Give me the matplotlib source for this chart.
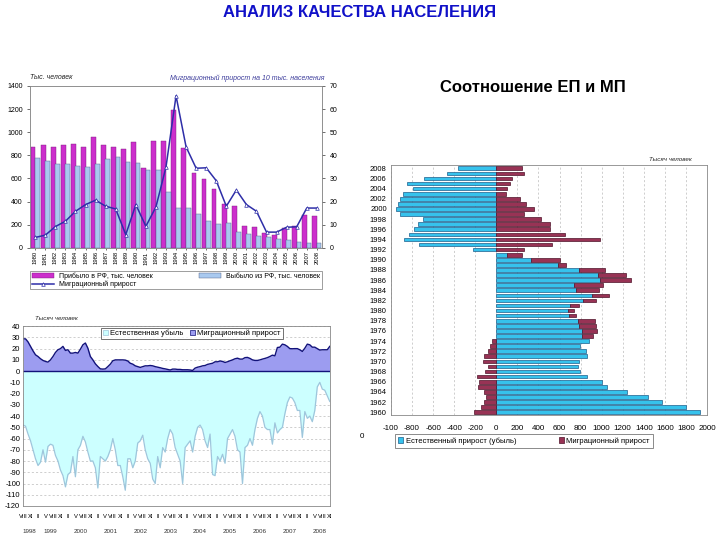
import matplotlib
matplotlib.use("Agg")
import matplotlib.pyplot as plt
import numpy as np
from matplotlib.patches import Patch
from matplotlib.lines import Line2D

plt.rcParams['font.family'] = ['Liberation Sans', 'DejaVu Sans']
plt.rcParams['axes.unicode_minus'] = False

# --- верхний левый график: миграция 1980-2008 ---
mig_years = list(range(1980, 2009))
arrived = [871, 888, 871, 891, 897, 874, 957, 891, 874, 851, 911, 687, 926, 920, 1193,
           865, 644, 595, 512, 379, 359, 193, 184, 126, 115, 172, 187, 287, 279]
departed = [779, 753, 721, 721, 707, 701, 721, 770, 788, 742, 730, 673, 673, 483, 345,
            345, 293, 233, 210, 216, 141, 124, 106, 98, 78, 66, 52, 46, 40]
mig_rate = [4.5, 5.5, 9.2, 11.5, 15.8, 18.7, 20.6, 18.0, 16.8, 5.7, 18.7, 9.3, 17.7, 34.9, 65.7,
            43.6, 34.4, 34.6, 29.0, 18.0, 25.0, 18.7, 15.8, 6.8, 6.8, 8.9, 9.1, 17.2, 17.2]

# --- нижний левый график: помесячно, VIII 1998 - XI 2008 ---
month_labels = ['VIII', 'XI', 'II', 'V']
mon_mig = [28.7, 28.7, 26, 22, 18, 14.5, 13, 11, 9.5, 8.6, 8, 10, 13, 16.6, 19, 20, 22, 18.4,
           19, 16, 16, 16.6, 16, 19.5, 23.4, 25, 20.4, 13, 10, 6.5, 4.1, 2, 1.8, 2, 4, 6.2,
           9.2, 10, 10, 10, 10, 9.8, 9, 7, 6.2, 4.7, 4, 3.3, 4, 4.7, 4.7, 5, 4.7, 4, 3.5, 3,
           2.4, 2, 1.5, 1, 1.8, 1.8, 1.5, 1.5, 1.2, 1.2, 1.2, 1, 0.6, 2.7, 3.5, 4, 4.7, 5, 6,
           6.5, 7, 8.3, 8.3, 9, 8.6, 7.7, 8.3, 9.2, 10, 11, 11.5, 10.7, 10.7, 12, 12.2, 11.3,
           10, 9.5, 9.5, 10, 10.7, 11.3, 12, 13, 14.2, 13.6, 21, 21.3, 24, 23.4, 22, 20, 19.9,
           20, 20, 19, 17.5, 20.4, 24, 23.4, 21.3, 21.3, 20, 18.7, 19, 19, 19, 22]
mon_nat = [-48, -49, -56, -62, -70, -78, -84, -81, -70, -81, -67, -65, -66, -75, -80, -88,
           -93, -103, -92, -90, -76, -94, -70, -66, -58, -63, -72, -80, -80, -86, -104, -76,
           -78, -80, -76, -70, -60, -70, -84, -84, -94, -106, -78, -78, -86, -80, -64, -62,
           -57, -70, -78, -82, -96, -100, -76, -86, -68, -72, -60, -52, -56, -68, -74, -80,
           -100, -68, -65, -62, -72, -58, -50, -48, -52, -62, -68, -56, -92, -93, -76, -80,
           -74, -82, -60, -56, -52, -58, -70, -72, -100, -68, -66, -60, -66, -52, -42, -36,
           -40, -50, -52, -52, -65, -46, -55, -52, -50, -38, -28, -23, -24, -28, -35, -35,
           -59, -36, -42, -40, -45, -35, -14, -10, -16, -17, -22, -27]
mon_years = list(range(1998, 2009))

# --- правый график: ЕП и МП 1960-2008 ---
ep_years = list(range(1960, 2009))
nat_inc = [1936, 1796, 1570, 1436, 1245, 1054, 1006, 863, 796, 771, 787, 863, 853, 796, 879,
           809, 815, 783, 774, 688, 678, 704, 822, 911, 752, 742, 984, 962, 783, 583, 331,
           102, -217, -732, -873, -825, -777, -739, -697, -917, -949, -930, -914, -885, -793,
           -847, -688, -468, -360]
mig_inc = [-210, -150, -118, -99, -118, -175, -166, -182, -108, -83, -127, -118, -83, -64, -38,
           108, 140, 166, 159, 73, 64, 83, 127, 162, 226, 268, 296, 267, 249, 80, 277,
           140, 264, 529, 981, 653, 513, 513, 424, 264, 360, 280, 226, 92, 99,
           127, 150, 258, 242]

fig = plt.figure(figsize=(7.2, 5.4), dpi=100)
fig.text(0.5, 0.977, 'АНАЛИЗ КАЧЕСТВА НАСЕЛЕНИЯ', ha='center', va='center',
         fontsize=12, fontweight='bold', color='#1010C8')
fig.text(533 / 720, 1 - 87 / 540, 'Соотношение ЕП и МП', ha='center', va='center',
         fontsize=12, fontweight='bold', color='black')

# верхний левый
ax1 = fig.add_axes([0.042, 0.541, 0.405, 0.300])
x = np.arange(len(mig_years))
ax1.bar(x - 0.22, arrived, 0.48, color='#CC2FCC', edgecolor='#7a1a7a', lw=0.3)
ax1.bar(x + 0.22, departed, 0.48, color='#A9C9EF', edgecolor='#4a5a80', lw=0.3)
ax1.set_xlim(-0.5, len(mig_years) - 0.5)
ax1.set_ylim(0, 1400)
ax1.set_yticks(range(0, 1401, 200))
ax1.set_xticks(x)
ax1.set_xticklabels([str(y) for y in mig_years], rotation=90, fontsize=4.2)
ax1.tick_params(axis='y', labelsize=5, length=2, width=0.4)
ax1.tick_params(axis='x', length=1.5, width=0.4, pad=1)
ax1b = ax1.twinx()
ax1b.plot(x, mig_rate, color='#2E2EA8', lw=1.1, marker='^', ms=2.6,
          mfc='white', mec='#2E2EA8', mew=0.5)
ax1b.set_ylim(0, 70)
ax1b.set_yticks(range(0, 71, 10))
ax1b.tick_params(axis='y', labelsize=5, length=2, width=0.4)
for a in (ax1, ax1b):
    for s in a.spines.values():
        s.set_color('#888888')
        s.set_linewidth(0.5)
fig.text(30 / 720, 1 - 78 / 540, 'Тыс. человек', fontsize=5, style='italic',
         va='center', color='#222222')
fig.text(325 / 720, 1 - 78 / 540, 'Миграционный прирост на 10 тыс. населения', fontsize=5,
         style='italic', va='center', ha='right', color='#3a3a9a')
h1 = [Patch(facecolor='#CC2FCC', edgecolor='#7a1a7a', lw=0.3),
      Line2D([], [], color='#2E2EA8', lw=1.1, marker='^', ms=2.6, mfc='white', mew=0.5),
      Patch(facecolor='#A9C9EF', edgecolor='#4a5a80', lw=0.3)]
l1 = ['Прибыло в РФ, тыс. человек', 'Миграционный прирост', 'Выбыло из РФ, тыс. человек']
leg1 = fig.legend(h1, l1, loc='upper left',
                  bbox_to_anchor=(0.042, 1 - 289 / 540, 0.405, 18 / 540),
                  mode='expand', ncol=2, fontsize=5, frameon=True, fancybox=False,
                  handlelength=3.2, handleheight=0.7, borderpad=0.2, labelspacing=0.1,
                  borderaxespad=0)
leg1.get_frame().set_edgecolor('#555555')
leg1.get_frame().set_linewidth(0.5)

# нижний левый
ax2 = fig.add_axes([0.032, 0.063, 0.426, 0.333])
m = np.arange(len(mon_mig))
ax2.set_axisbelow(True)
ax2.yaxis.grid(True, ls=(0, (3, 3)), color='#BBBBBB', lw=0.5)
ax2.fill_between(m, 0, mon_nat, color='#CCFFFF', lw=0)
ax2.plot(m, mon_nat, color='#9EC6DC', lw=0.9)
ax2.fill_between(m, 0, mon_mig, color='#9C9CF0', lw=0)
ax2.plot(m, mon_mig, color='#12127A', lw=1.0)
ax2.axhline(0, color='#12127A', lw=1.0)
ax2.set_xlim(0, len(mon_mig) - 1)
ax2.set_ylim(-120, 40)
ax2.set_yticks(range(-120, 41, 10))
ax2.tick_params(axis='y', labelsize=5.5, length=0, pad=2)
ax2.set_xticks(m[::3])
ax2.set_xticklabels([month_labels[i % 4] for i in range(len(m[::3]))], fontsize=4.2)
ax2.tick_params(axis='x', length=0, pad=6)
for s in ax2.spines.values():
    s.set_color('#888888')
    s.set_linewidth(0.6)
for yr in mon_years:
    pos = (yr - 1998) * 12 - 7 + 6
    pos = min(max(pos, 2.5), 120)
    ax2.text(pos, -0.14, str(yr), transform=ax2.get_xaxis_transform(),
             ha='center', va='center', fontsize=4.5, color='#333333')
fig.text(35 / 720, 1 - 318 / 540, 'Тысяч человек', fontsize=4.5, style='italic',
         va='center', color='#222222')
h2 = [Patch(facecolor='#CCFFFF', edgecolor='#9EC6DC', lw=0.5),
      Patch(facecolor='#9C9CF0', edgecolor='#12127A', lw=0.5)]
leg2 = ax2.legend(h2, ['Естественная убыль', 'Миграционный прирост'], loc='upper center',
                  bbox_to_anchor=(0.55, 0.99), ncol=2, fontsize=5.5, frameon=True,
                  fancybox=False, handlelength=0.7, handleheight=0.7, handletextpad=0.3,
                  columnspacing=0.8, borderpad=0.25, borderaxespad=0)
leg2.get_frame().set_edgecolor('#333333')
leg2.get_frame().set_linewidth(0.6)

# правый
ax3 = fig.add_axes([0.543, 0.231, 0.439, 0.463])
yy = np.arange(len(ep_years))
nat_a = np.array(nat_inc)
mig_a = np.array(mig_inc)
mig_left = np.where(np.sign(nat_a) == np.sign(mig_a), nat_a, 0)
ax3.set_axisbelow(True)
ax3.xaxis.grid(True, ls=(0, (3, 3)), color='#BBBBBB', lw=0.5)
ax3.barh(yy, nat_a, height=0.72, color='#36C2EC', edgecolor='#1C5E8C', lw=0.5)
ax3.barh(yy, mig_a, left=mig_left, height=0.72, color='#983355', edgecolor='#4E1228', lw=0.5)
ax3.set_xlim(-1000, 2000)
ax3.set_ylim(-0.6, len(ep_years) - 0.4)
ax3.set_yticks(yy[::2])
ax3.set_yticklabels([str(y) for y in ep_years[::2]], fontsize=5.5)
xt = list(range(-1000, 2001, 200))
ax3.set_xticks(xt)
ax3.set_xticklabels(['-100'] + [str(v) for v in xt[1:]], fontsize=5.8)
ax3.tick_params(axis='both', length=0, pad=3)
ax3.tick_params(axis='x', pad=7)
for s in ax3.spines.values():
    s.set_color('#888888')
    s.set_linewidth(0.6)
fig.text(362 / 720, 1 - 437 / 540, '0', fontsize=5.8, ha='center', va='center')
fig.text(692 / 720, 1 - 159 / 540, 'Тысяч человек', fontsize=4.5, style='italic',
         ha='right', va='center', color='#222222')
h3 = [Patch(facecolor='#36C2EC', edgecolor='#1C5E8C', lw=0.5),
      Patch(facecolor='#983355', edgecolor='#4E1228', lw=0.5)]
leg3 = fig.legend(h3, ['Естественный прирост (убыль)', 'Миграционный прирост'],
                  loc='upper left',
                  bbox_to_anchor=(395 / 720, 1 - 454 / 540, 258 / 720, 20 / 540),
                  mode='expand', ncol=2, fontsize=5.5, frameon=True, fancybox=False,
                  handlelength=0.7, handleheight=0.7, handletextpad=0.3, borderpad=0.4,
                  borderaxespad=0)
leg3.get_frame().set_edgecolor('#555555')
leg3.get_frame().set_linewidth(0.6)

fig.savefig('out.png', dpi=100)
